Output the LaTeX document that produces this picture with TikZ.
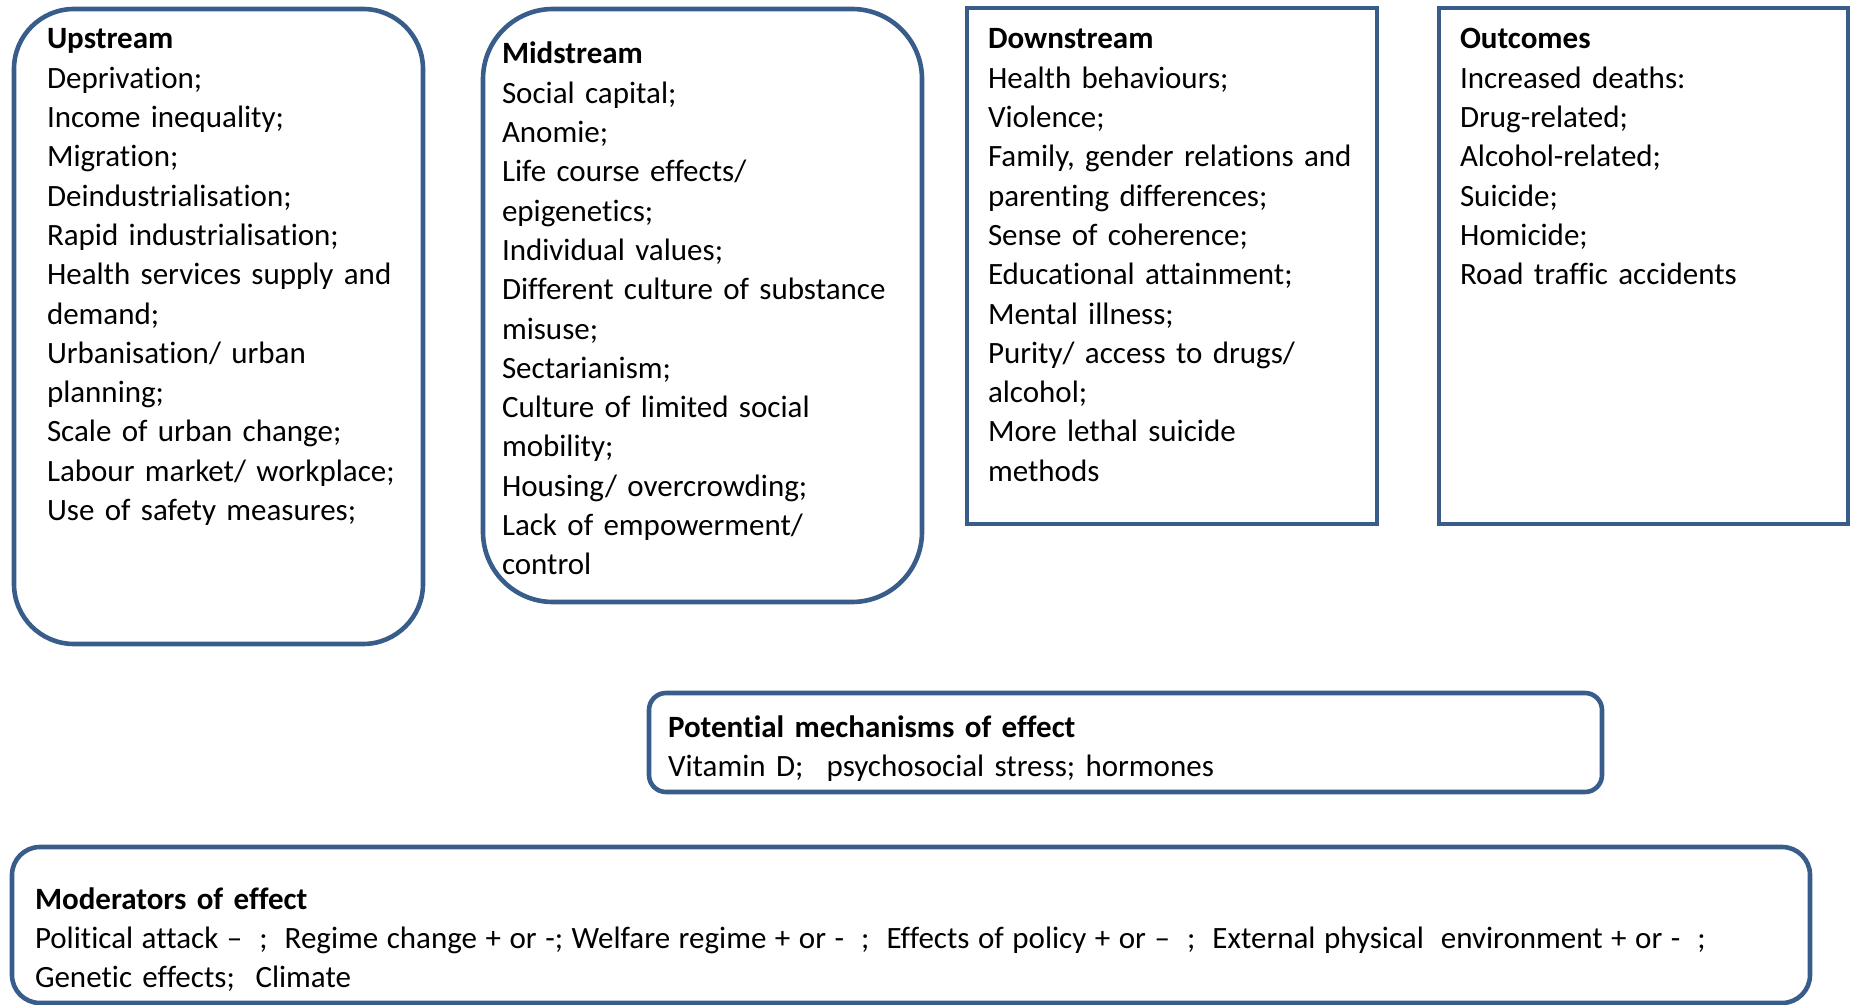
\documentclass[tikz,border=0pt]{standalone}
\usepackage{fontspec}
\setmainfont{Carlito}[Ligatures={NoCommon}]
\definecolor{bord}{RGB}{56,93,138}
\begin{document}
\begin{tikzpicture}[x=0.5pt,y=-0.5pt,
  box/.style={draw=bord,line width=2.3pt,inner sep=0pt,outer sep=0pt,anchor=north west},
  txt/.style={anchor=base west,inner sep=0pt,outer sep=0pt,align=left,text width=880pt,
    font=\fontsize{15.5}{19.65}\selectfont}]
\useasboundingbox (0,0) rectangle (1853,1005);
% boxes
\node[box,rounded corners=30pt,minimum width=204.5pt,minimum height=317.5pt] (up) at (14,9) {};
\node[box,rounded corners=35pt,minimum width=219.5pt,minimum height=296.5pt] (mid) at (483,9) {};
\node[box,minimum width=205pt,minimum height=258pt] (down) at (967,8) {};
\node[box,minimum width=204.5pt,minimum height=258pt] (out) at (1439,8) {};
\node[box,rounded corners=8.5pt,minimum width=476.5pt,minimum height=49.5pt] (pot) at (649,693) {};
\node[box,rounded corners=14pt,minimum width=899pt,minimum height=78pt] (mod) at (12,847) {};
% texts
\node[txt] (uptxt) at (47,49) {\textbf{Upstream}\\
Deprivation;\\
Income inequality;\\
Migration;\\
Deindustrialisation;\\
Rapid industrialisation;\\
Health services supply and\\
demand;\\
Urbanisation/ urban\\
planning;\\
Scale of urban change;\\
Labour market/ workplace;\\
Use of safety measures;};
\node[txt] (midtxt) at (502,64) {\textbf{Midstream}\\
Social capital;\\
Anomie;\\
Life course effects/\\
epigenetics;\\
Individual values;\\
Different culture of substance\\
misuse;\\
Sectarianism;\\
Culture of limited social\\
mobility;\\
Housing/ overcrowding;\\
Lack of empowerment/\\
control};
\node[txt] (downtxt) at (988,49) {\textbf{Downstream}\\
Health behaviours;\\
Violence;\\
Family, gender relations and\\
parenting differences;\\
Sense of coherence;\\
Educational attainment;\\
Mental illness;\\
Purity/ access to drugs/\\
alcohol;\\
More lethal suicide\\
methods};
\node[txt] (outtxt) at (1460,49) {\textbf{Outcomes}\\
Increased deaths:\\
Drug-related;\\
Alcohol-related;\\
Suicide;\\
Homicide;\\
Road traffic accidents};
\node[txt] (pottxt) at (668,737) {\textbf{Potential mechanisms of effect}\\
Vitamin D;\hspace{0.75em}psychosocial stress; hormones};
\node[txt] (modtxt) at (35,909) {\textbf{Moderators of effect}\\
{\spaceskip=0.275em Political attack –\ \ ;\ \ Regime change + or -; Welfare regime + or -\ \ ;\ \ Effects of policy + or –\ \ ;\ \ External physical\ \ environment + or -\ \ ;}\\
Genetic effects;\ \ Climate};
\end{tikzpicture}
\end{document}
